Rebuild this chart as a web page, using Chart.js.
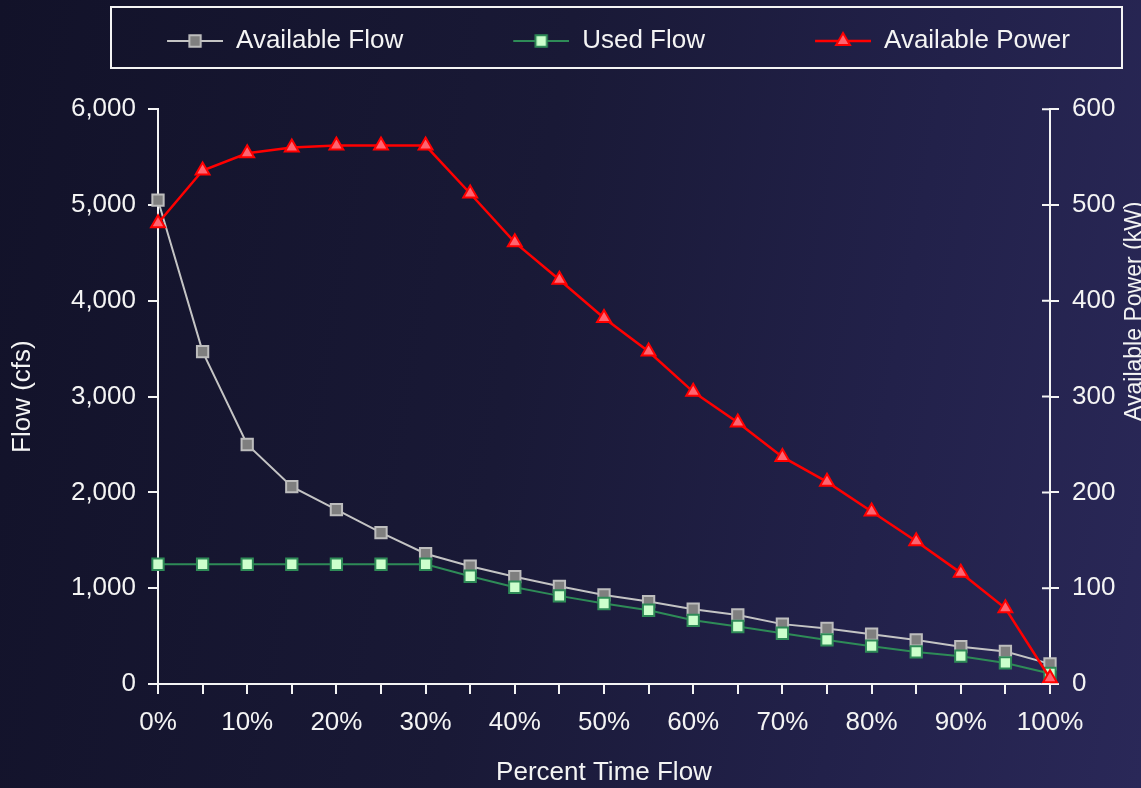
<!DOCTYPE html>
<html>
<head>
<meta charset="utf-8">
<script src="https://cdn.jsdelivr.net/npm/chart.js@4.4.1/dist/chart.umd.min.js"></script>
<style>
  html, body { margin: 0; padding: 0; overflow: hidden; }
  body {
    width: 1141px; height: 788px;
    background: linear-gradient(100deg, #121229 0%, #191936 45%, #22214a 75%, #2a2858 100%);
  }
  canvas { display: block; }
</style>
</head>
<body>
<canvas id="flowChart" width="1141" height="788"></canvas>
<script>
// percent of time a flow is equalled or exceeded
const percentLabels = ['0%', '5%', '10%', '15%', '20%', '25%', '30%', '35%', '40%', '45%', '50%',
  '55%', '60%', '65%', '70%', '75%', '80%', '85%', '90%', '95%', '100%'];

// flows in cfs
const availableFlow = [5050, 3470, 2500, 2060, 1820, 1580, 1360, 1230, 1120, 1020, 930,
  860, 780, 720, 625, 580, 520, 460, 390, 340, 210];
const usedFlow = [1250, 1250, 1250, 1250, 1250, 1250, 1250, 1125, 1010, 920, 840,
  770, 665, 600, 530, 460, 395, 335, 290, 220, 110];

// power in kW
const availablePower = [481, 536, 554, 560, 562, 562, 562, 512, 461, 422, 382,
  347, 305, 273, 237, 211, 180, 149, 116, 79, 6];

const FONT = "'Liberation Sans', Arial, sans-serif";
const WHITE = '#f4f4f4';

// legend icon = short line with the marker in the middle (left part left blank as spacing)
const ICON_GAP = 96;
const ICON_LINE = 56;
function makeIcon(ds) {
  const c = document.createElement('canvas');
  c.width = ICON_GAP + ICON_LINE;
  c.height = 24;
  const g = c.getContext('2d');
  g.strokeStyle = ds.borderColor;
  g.lineWidth = ds.borderWidth;
  g.beginPath();
  g.moveTo(ICON_GAP, 12);
  g.lineTo(ICON_GAP + ICON_LINE, 12);
  g.stroke();
  g.fillStyle = ds.pointBackgroundColor;
  g.strokeStyle = ds.pointBorderColor;
  g.lineWidth = ds.pointBorderWidth;
  Chart.helpers.drawPoint(g, {pointStyle: ds.pointStyle, radius: ds.pointRadius, rotation: 0, borderWidth: ds.pointBorderWidth},
    ICON_GAP + ICON_LINE / 2, 12);
  return c;
}

// white frame around legend, inward half of the right axis ticks, right axis title
const decorations = {
  id: 'decorations',
  afterDraw(chart) {
    const ctx = chart.ctx;
    const lg = chart.legend;
    ctx.save();
    ctx.strokeStyle = WHITE;
    ctx.lineWidth = 2;
    ctx.strokeRect(111, lg.top - 7, chart.width - 19 - 111, 61);

    const s = chart.scales.y1;
    ctx.beginPath();
    s.ticks.forEach(t => {
      const py = s.getPixelForValue(t.value);
      ctx.moveTo(s.left - 8, py);
      ctx.lineTo(s.left, py);
    });
    ctx.stroke();

    ctx.translate(chart.width, chart.chartArea.top + 202);
    ctx.rotate(-Math.PI / 2);
    ctx.fillStyle = WHITE;
    ctx.font = '23px ' + FONT;
    ctx.textAlign = 'center';
    ctx.textBaseline = 'alphabetic';
    ctx.fillText('Available Power (kW)', 0, 0);
    ctx.restore();
  }
};

const datasets = [{
  label: 'Available Flow',
  data: availableFlow,
  yAxisID: 'y',
  borderColor: '#c4c4c4',
  borderWidth: 2,
  pointStyle: 'rect',
  pointRadius: 8,
  pointBorderWidth: 2,
  pointBackgroundColor: '#7f7f7f',
  pointBorderColor: '#bdbdbd',
  order: 3
}, {
  label: 'Used Flow',
  data: usedFlow,
  yAxisID: 'y',
  borderColor: '#2e8b57',
  borderWidth: 2,
  pointStyle: 'rect',
  pointRadius: 8,
  pointBorderWidth: 2,
  pointBackgroundColor: '#ccffcc',
  pointBorderColor: '#2e8b57',
  order: 2
}, {
  label: 'Available Power',
  data: availablePower,
  yAxisID: 'y1',
  borderColor: '#ff0000',
  borderWidth: 2.5,
  pointStyle: 'triangle',
  pointRadius: 8,
  pointBorderWidth: 2,
  pointBackgroundColor: '#ff6470',
  pointBorderColor: '#ff0000',
  order: 1
}];

const ctx = document.getElementById('flowChart').getContext('2d');
const flowChart = new Chart(ctx, {
  type: 'line',
  data: { labels: percentLabels, datasets: datasets },
  options: {
    responsive: false,
    animation: false,
    layout: { padding: { top: 14, left: 0, right: 0, bottom: 0 } },
    elements: { line: { tension: 0 } },
    plugins: {
      tooltip: { enabled: false },
      legend: {
        position: 'top',
        weight: 2500,
        labels: {
          usePointStyle: true,
          pointStyleWidth: ICON_GAP + ICON_LINE,
          padding: 14,
          color: WHITE,
          font: { family: FONT, size: 26 },
          generateLabels(chart) {
            return chart.data.datasets.map((ds, i) => ({
              text: ds.label,
              pointStyle: makeIcon(ds),
              fontColor: WHITE,
              fillStyle: 'transparent',
              strokeStyle: 'transparent',
              lineWidth: 0,
              hidden: false,
              datasetIndex: i
            }));
          }
        }
      },
      // empty subtitle used only as the gap between legend and plot
      subtitle: { display: true, text: '', font: { size: 1 }, padding: { top: 0, bottom: 44 } }
    },
    scales: {
      x: {
        type: 'category',
        offset: false,
        border: { color: WHITE, width: 2 },
        grid: { drawOnChartArea: false, tickLength: 10, color: WHITE, lineWidth: 2, offset: false },
        ticks: {
          autoSkip: false, maxRotation: 0, padding: 13,
          color: WHITE, font: { family: FONT, size: 26 },
          callback: (v, i) => (i % 2 === 0 ? percentLabels[i] : '')
        },
        title: { display: true, text: 'Percent Time Flow', color: WHITE,
          font: { family: FONT, size: 26 }, padding: { top: 0, bottom: 0 } },
        afterFit(scale) { scale.height = 104; }
      },
      y: {
        position: 'left',
        min: 0, max: 6000,
        border: { color: WHITE, width: 2 },
        grid: { drawOnChartArea: false, tickLength: 10, color: WHITE, lineWidth: 2 },
        ticks: {
          stepSize: 1000, padding: 12, color: WHITE, font: { family: FONT, size: 26 },
          callback: v => v.toLocaleString('en-US')
        },
        title: { display: true, text: 'Flow (cfs)', color: WHITE,
          font: { family: FONT, size: 26 }, padding: { top: 7, bottom: 0 } },
        afterFit(scale) { scale.width = 158; }
      },
      y1: {
        position: 'right',
        min: 0, max: 600,
        border: { color: WHITE, width: 2 },
        grid: { drawOnChartArea: false, tickLength: 9, color: WHITE, lineWidth: 2 },
        ticks: { stepSize: 100, padding: 13, color: WHITE, font: { family: FONT, size: 26 } },
        afterFit(scale) { scale.width = 91; }
      }
    }
  },
  plugins: [decorations]
});
</script>
</body>
</html>
